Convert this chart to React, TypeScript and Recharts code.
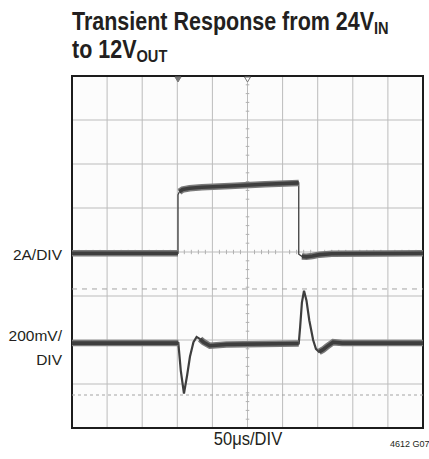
import { LineChart, Line, XAxis, YAxis, CartesianGrid, ReferenceLine, ReferenceArea, ReferenceDot } from 'recharts';

// scope graticule: 10 time divisions by 8 vertical divisions
const TIME_DIVS = [0, 1, 2, 3, 4, 5, 6, 7, 8, 9, 10];
const LEVEL_DIVS = [-4, -3, -2, -1, 0, 1, 2, 3, 4];

// load current, 2A/DIV (positions in screen divisions)
const CURRENT_T = [0, 3.02, 3.02, 3.06, 3.15, 3.35, 3.7, 4.5, 5.5, 6.46, 6.46, 6.55, 6.68, 6.85, 7.05, 7.4, 10];
const CURRENT_DIV = [-0.03, -0.03, 1.3, 1.37, 1.42, 1.45, 1.47, 1.5, 1.54, 1.57, -0.05, -0.1, -0.11, -0.09, -0.06, -0.04, -0.03];
// index ranges drawn as the thick noisy band (edges stay thin)
const CURRENT_BANDS: [number, number][] = [[0, 1], [3, 9], [11, 16]];

// output voltage, 200mV/DIV
const VOUT_T = [0, 3.03, 3.1, 3.19, 3.28, 3.36, 3.46, 3.55, 3.65, 3.75, 3.93, 4.4, 6.46, 6.5, 6.55, 6.61, 6.68, 6.76, 6.87, 6.95, 7.04, 7.15, 7.26, 7.44, 7.7, 10];
const VOUT_DIV = [-2.07, -2.07, -2.7, -3.22, -2.8, -2.38, -2.05, -1.93, -1.98, -2.05, -2.13, -2.1, -2.08, -1.7, -1.15, -0.88, -1.1, -1.55, -2.0, -2.2, -2.27, -2.22, -2.15, -2.05, -2.07, -2.07];
const VOUT_BANDS: [number, number][] = [[0, 1], [8, 12], [20, 25]];

const CURSOR_UPPER = -0.84;
const CURSOR_LOWER = -3.25;
const TRIGGER_T = 3.02;
const CENTER_T = 5;

const W = 429;
const H = 459;
const FONT = "'Liberation Sans', Arial, sans-serif";
const TRACE = '#3e3e3e';

type Row = { t: number; v: number | null };

const toRows = (ts: number[], vs: number[]): Row[] => ts.map((t, i) => ({ t, v: vs[i] }));

const bandRows = (ts: number[], vs: number[], ranges: [number, number][]): Row[] => {
  const rows: Row[] = [];
  ranges.forEach(([a, b]) => {
    for (let i = a; i <= b; i++) rows.push({ t: ts[i], v: vs[i] });
    rows.push({ t: ts[b], v: null });
  });
  return rows;
};

// minor ticks along the centre cross, 5 per division
const minorX: number[] = [];
for (let i = 1; i < 50; i++) if (i % 5 !== 0) minorX.push(i / 5);
const minorY: number[] = [];
for (let i = -19; i < 20; i++) if (i % 5 !== 0) minorY.push(i / 5);

const Trigger = ({ cx, cy, hollow }: { cx?: number; cy?: number; hollow?: boolean }) => {
  if (cx == null || cy == null) return null;
  return (
    <polygon
      points={`${cx - 3},${cy + 1} ${cx + 3},${cy + 1} ${cx},${cy + 6}`}
      fill={hollow ? '#fff' : '#777'}
      stroke="#777"
      strokeWidth={1}
    />
  );
};

// flat stretches of a trace: soft grey halo with a dark core
const bandLines = (rows: Row[], key: string) => [
  <Line key={`${key}-h`} data={rows} dataKey="v" stroke="#7a7a7a" strokeWidth={6.5} strokeLinecap="butt" dot={false} connectNulls={false} isAnimationActive={false} />,
  <Line key={`${key}-c`} data={rows} dataKey="v" stroke={TRACE} strokeWidth={3.6} strokeLinecap="butt" dot={false} connectNulls={false} isAnimationActive={false} />,
];

export default function App() {
  const current = toRows(CURRENT_T, CURRENT_DIV);
  const currentBand = bandRows(CURRENT_T, CURRENT_DIV, CURRENT_BANDS);
  const vout = toRows(VOUT_T, VOUT_DIV);
  const voutBand = bandRows(VOUT_T, VOUT_DIV, VOUT_BANDS);

  return (
    <div style={{ position: 'absolute', left: 0, top: 0, width: W, height: H, background: '#fff' }}>
      <LineChart width={W} height={H} margin={{ top: 76, right: 6, bottom: 31, left: 72 }}>
        <XAxis type="number" dataKey="t" domain={[0, 10]} ticks={TIME_DIVS} hide />
        <YAxis type="number" domain={[-4, 4]} ticks={LEVEL_DIVS} hide />
        <CartesianGrid stroke="#bcbcbc" strokeWidth={1} fill="#fcfcfc" />
        <ReferenceLine y={CURSOR_UPPER} stroke="#a4a4a4" strokeDasharray="5 5" />
        <ReferenceLine y={CURSOR_LOWER} stroke="#a4a4a4" strokeDasharray="3 3" />
        {minorY.map((y) => (
          <ReferenceLine
            key={`my${y}`}
            segment={[{ x: CENTER_T - 0.05, y }, { x: CENTER_T + 0.05, y }]}
            stroke="#b0b0b0"
          />
        ))}
        {minorX.map((x) => (
          <ReferenceLine
            key={`mx${x}`}
            segment={[{ x, y: -0.05 }, { x, y: 0.05 }]}
            stroke="#b0b0b0"
          />
        ))}
        <Line data={current} dataKey="v" stroke={TRACE} strokeWidth={1.3} dot={false} isAnimationActive={false} />
        {bandLines(currentBand, 'cur')}
        <Line data={vout} dataKey="v" stroke={TRACE} strokeWidth={2.2} dot={false} isAnimationActive={false} />
        {bandLines(voutBand, 'vout')}
        <ReferenceArea x1={0} x2={10} y1={-4} y2={4} fill="none" stroke="#1c1c1c" strokeWidth={2} />
        <ReferenceDot x={TRIGGER_T} y={4} r={3} shape={(p: any) => <Trigger cx={p.cx} cy={p.cy} />} />
        <ReferenceDot x={CENTER_T} y={4} r={3} shape={(p: any) => <Trigger cx={p.cx} cy={p.cy} hollow />} />
      </LineChart>
      <svg width={W} height={H} style={{ position: 'absolute', left: 0, top: 0, pointerEvents: 'none' }}>
        <g fontFamily={FONT} fill="#231f20">
          <text transform="translate(72,29.5) scale(0.86,1)" fontSize={25} fontWeight="bold">
            Transient Response from 24V
            <tspan fontSize={17} dy={4}>IN</tspan>
          </text>
          <text transform="translate(72,57.5) scale(0.86,1)" fontSize={25} fontWeight="bold">
            to 12V
            <tspan fontSize={17} dy={4}>OUT</tspan>
          </text>
          <text x={62} y={260} fontSize={15.5} textAnchor="end">2A/DIV</text>
          <text x={62} y={341} fontSize={15.5} textAnchor="end">200mV/</text>
          <text x={62} y={365} fontSize={15.5} textAnchor="end">DIV</text>
          <text transform="translate(248,445) scale(0.92,1)" fontSize={18} textAnchor="middle">50μs/DIV</text>
          <text x={390} y={447} fontSize={9}>4612 G07</text>
        </g>
      </svg>
    </div>
  );
}
